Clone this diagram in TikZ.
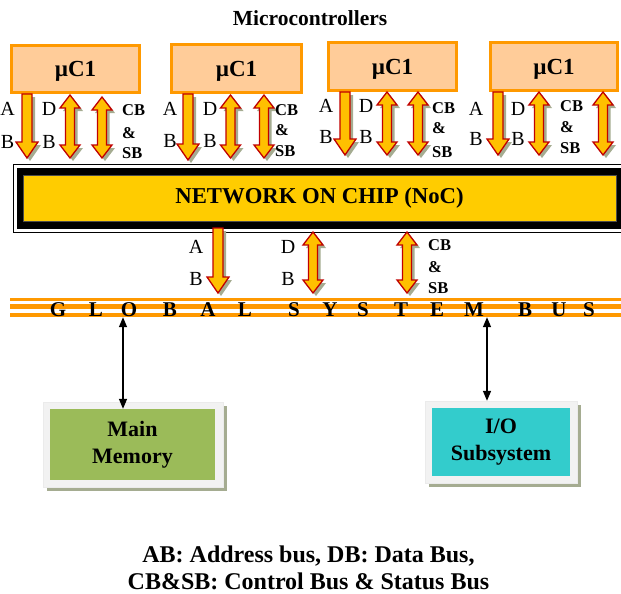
\documentclass[tikz,border=0pt]{standalone}
\usepackage{fontspec}
\setmainfont{Liberation Serif}
\usetikzlibrary{arrows.meta,shadows}
\definecolor{peach}{RGB}{255,204,153}
\definecolor{orng}{RGB}{255,153,0}
\definecolor{gold}{RGB}{255,192,0}
\definecolor{dred}{RGB}{192,0,0}
\definecolor{shad}{RGB}{165,172,145}
\definecolor{nocy}{RGB}{255,204,0}
\definecolor{memg}{RGB}{155,187,89}
\definecolor{iot}{RGB}{51,204,204}
\definecolor{lgray}{RGB}{242,242,242}
\newcommand\dnpts[3]{({#1-5},{#2}) -- ({#1+5},{#2}) -- ({#1+5},{#3-16}) -- ({#1+11},{#3-16}) -- ({#1},{#3}) -- ({#1-11},{#3-16}) -- ({#1-5},{#3-16}) -- cycle}
\newcommand\dblpts[3]{({#1},{#2}) -- ({#1+10},{#2+13}) -- ({#1+4.5},{#2+13}) -- ({#1+4.5},{#3-13}) -- ({#1+10},{#3-13}) -- ({#1},{#3}) -- ({#1-10},{#3-13}) -- ({#1-4.5},{#3-13}) -- ({#1-4.5},{#2+13}) -- ({#1-10},{#2+13}) -- cycle}
\newcommand\blkdn[3]{\fill[shad,shift={(3,3)}] \dnpts{#1}{#2}{#3}; \filldraw[blkarr] \dnpts{#1}{#2}{#3};}
\newcommand\blkdbl[3]{\fill[shad,shift={(3,3)}] \dblpts{#1}{#2}{#3}; \filldraw[blkarr] \dblpts{#1}{#2}{#3};}
\newcommand\ulabels[9]{%
 \node[lab] (A#1) at (#2,#3) {A}; \node[lab] (B#1) at (#2,#4) {B};
 \node[lab] (D#1) at (#5,#3) {D}; \node[lab] (E#1) at (#5,#4) {B};
 \node[cbl] (C#1) at (#6,#7) {CB}; \node[cbl] (M#1) at (#6,#8) {\&}; \node[cbl] (S#1) at (#6,#9) {SB};}
\tikzset{
 blkarr/.style={fill=gold, draw=dred, line width=1.3},
 lab/.style={font=\fontsize{20}{20}\selectfont, anchor=base, inner sep=0},
 cbl/.style={font=\bfseries\fontsize{16.5}{16.5}\selectfont, anchor=base west, inner sep=0},
 mcu/.style={draw=orng, line width=3, fill=peach, inner sep=0, text depth=0pt,
   font=\bfseries\fontsize{23}{23}\selectfont},
 buslet/.style={font=\bfseries\fontsize{21}{21}\selectfont, anchor=base, inner sep=0},
 outerbox/.style={fill=lgray, draw=black!8, inner sep=0,
   drop shadow={shadow xshift=4pt, shadow yshift=-4pt, fill=shad, opacity=1}},
 innerbox/.style={inner sep=0, align=center, font=\bfseries\fontsize{22}{27}\selectfont},
 memarrow/.style={<->, line width=1.5, >={Triangle[length=10pt,width=8pt]}}
}
\begin{document}
\begin{tikzpicture}[x=1pt,y=-1pt]
\useasboundingbox (0,0) rectangle (621,594);
\node[font=\bfseries\fontsize{21.5}{21.5}\selectfont, anchor=base] (title) at (310,26) {Microcontrollers};
% microcontrollers
\node[mcu, minimum width=128, minimum height=47] (m1) at (75.5,69) {µC1};
\node[mcu, minimum width=130, minimum height=48] (m2) at (236.5,68.5) {µC1};
\node[mcu, minimum width=128, minimum height=48] (m3) at (392.5,66.5) {µC1};
\node[mcu, minimum width=127, minimum height=48] (m4) at (554,66.5) {µC1};
% NoC
\draw[line width=1] (13,164) rectangle (628,232);
\fill[black] (17,167.5) rectangle (628,229);
\node[fill=nocy, draw=black!70, line width=0.6, minimum width=593, minimum height=46.7, inner sep=0,
  font=\bfseries\fontsize{22.7}{22.7}\selectfont] (noc) at (319.5,198.3) {NETWORK ON CHIP (NoC)};
% upper block arrows
\blkdn{27}{94}{158}  \blkdbl{70}{95}{158}  \blkdbl{102}{97}{158}
\blkdn{188}{94}{160} \blkdbl{230.5}{95}{158} \blkdbl{264}{95}{158}
\blkdn{345}{92}{155} \blkdbl{387}{92}{155} \blkdbl{418}{92}{155}
\blkdn{498}{92}{155} \blkdbl{539}{92}{155} \blkdbl{603}{92}{155}
\ulabels{1}{7.5}{115}{148}{49}{122}{115}{138}{158}
\ulabels{2}{170}{115}{147}{210}{275}{115}{135}{156}
\ulabels{3}{326}{112}{143}{366}{432}{113}{133}{157}
\ulabels{4}{476}{115}{145}{518}{560}{111}{132}{153}
% global bus
\node[minimum width=612, minimum height=20, inner sep=0] (bus) at (316,307) {};
\fill[orng] (10,297.5) rectangle (625,300.5);
\fill[orng] (10,303.5) rectangle (625,308.5);
\fill[orng] (10,312.5) rectangle (625,316.5);
\foreach \ch/\xx [count=\i] in {G/58,L/96,O/129,B/170,A/208,L/245,S/294,Y/330,S/363,T/401,E/437,M/474,B/525,U/559,S/589}
  \node[buslet] (bl\i) at (\xx,316) {\ch};
% lower block arrows
\blkdn{218}{228}{293} \blkdbl{313}{232}{293} \blkdbl{407}{232}{293}
\ulabels{5}{196}{253}{285}{288}{428}{250}{272}{293}
% memory and IO
\node[outerbox, minimum width=180, minimum height=85] (mm) at (133,444.5) {};
\node[innerbox, fill=memg, minimum width=165, minimum height=71] (mmi) at (132.5,444.5) {Main\\Memory};
\node[outerbox, minimum width=152, minimum height=82] (io) at (501,442) {};
\node[innerbox, fill=iot, minimum width=138, minimum height=68] (ioi) at (501,442) {I/O\\Subsystem};
\draw[memarrow] (bus.south -| 123,0) -- (mmi.north -| 123,0);
\draw[memarrow] (bus.south -| 487,0) -- (io.north -| 487,0);
% caption
\node[align=center, font=\bfseries\fontsize{24}{27}\selectfont] (cap) at (308.5,568) {AB: Address bus, DB: Data Bus,\\CB\&SB: Control Bus \& Status Bus};
\end{tikzpicture}
\end{document}
